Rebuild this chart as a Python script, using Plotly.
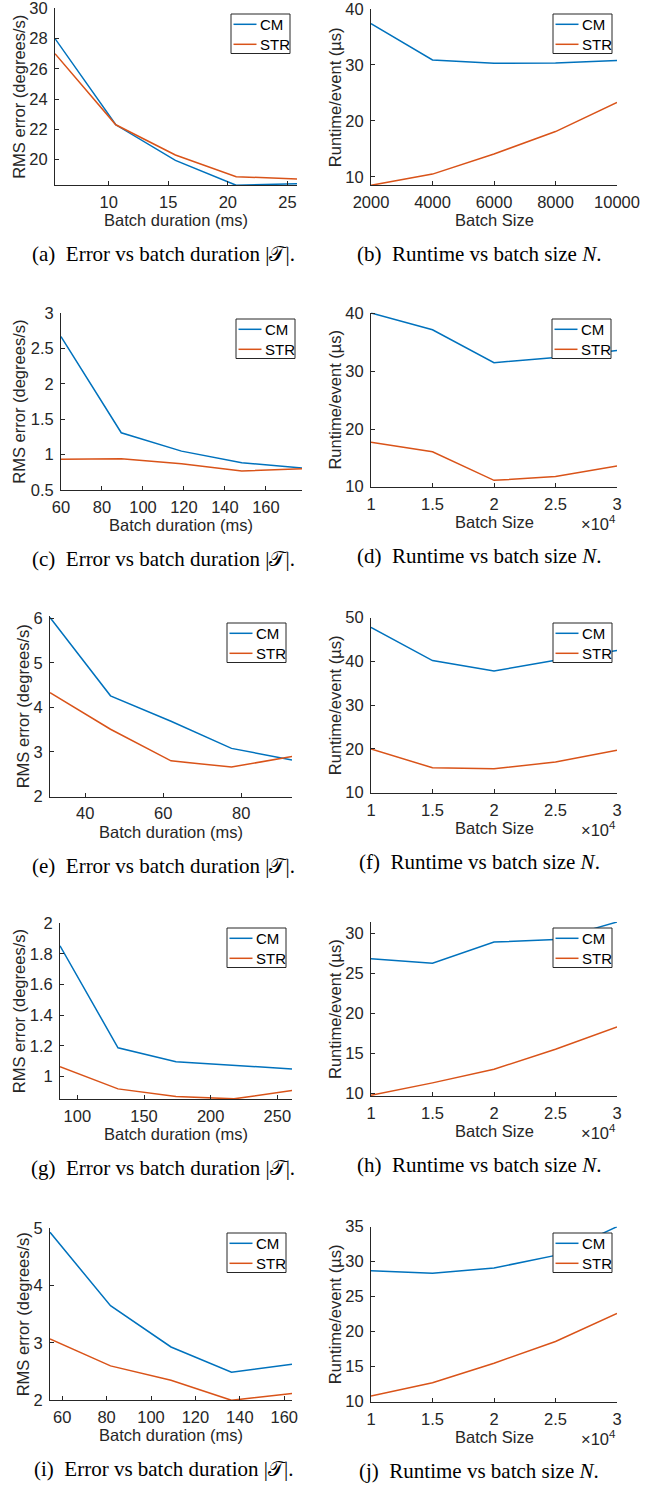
import plotly.graph_objects as go

W, H = 649, 1486

# ---------------- data ----------------
a_x = [5.5, 10.6, 15.6, 20.7, 25.8]
a_cm = [28.0, 22.3, 19.95, 18.3, 18.4]
a_str = [27.0, 22.3, 20.3, 18.87, 18.72]

b_x = [2000, 4000, 6000, 8000, 10000]
b_cm = [37.4, 30.9, 30.3, 30.35, 30.8]
b_str = [8.5, 10.5, 14.1, 18.1, 23.3]
b_ticktext = ["2000", "4000", "6000", "8000", "10000"]

c_x = [60, 89.4, 118.8, 148.2, 177.6]
c_cm = [2.67, 1.31, 1.05, 0.885, 0.81]
c_str = [0.935, 0.943, 0.87, 0.77, 0.80]

n_x = [10000, 15000, 20000, 25000, 30000]

d_cm = [40.1, 37.2, 31.5, 32.4, 33.6]
d_str = [17.7, 16.05, 11.1, 11.75, 13.6]

e_x = [31, 46.5, 62, 77.5, 93]
e_cm = [6.02, 4.26, 3.69, 3.08, 2.82]
e_str = [4.33, 3.51, 2.8, 2.66, 2.9]

f_cm = [47.8, 40.2, 37.8, 40.3, 42.5]
f_str = [20.0, 15.7, 15.5, 17.0, 19.7]

g_x = [87, 130.5, 174, 217.5, 261]
g_cm = [1.853, 1.188, 1.097, 1.075, 1.05]
g_str = [1.065, 0.92, 0.87, 0.855, 0.91]

h_cm = [26.8, 26.25, 28.9, 29.2, 31.4]
h_str = [9.75, 11.3, 13.0, 15.5, 18.3]

i_x = [54.5, 81.75, 109, 136.25, 163.5]
i_cm = [4.93, 3.65, 2.93, 2.49, 2.63]
i_str = [3.07, 2.6, 2.35, 2.0, 2.12]

j_cm = [28.7, 28.35, 29.1, 30.9, 35.0]
j_str = [10.8, 12.7, 15.5, 18.6, 22.6]

n_ticks = [10000, 15000, 20000, 25000, 30000]
n_ticktext = ["1", "1.5", "2", "2.5", "3"]

series_names = ["CM", "STR"]
colors = ["#0072BD", "#D95319"]

left_ylabel = "RMS error (degrees/s)"
right_ylabel = "Runtime/event (\u00b5s)"
left_xlabel = "Batch duration (ms)"
right_xlabel = "Batch Size"
left_caption = "Error vs batch duration |\U0001D4AF|."
right_caption = "Runtime vs batch size <i>N</i>."
letters = ["a", "b", "c", "d", "e", "f", "g", "h", "i", "j"]

panels = [
    dict(x=a_x, cm=a_cm, st=a_str, xr=[5.5, 25.8], yr=[18.3, 30], xt=[10, 15, 20, 25], yt=[20, 22, 24, 26, 28, 30],
         box=(55, 297, 8.3, 185.3), leg=(290, 14), side="L", ylx=19),
    dict(x=b_x, cm=b_cm, st=b_str, xr=[2000, 10000], yr=[8.5, 40], xt=b_x, xtt=b_ticktext, yt=[10, 20, 30, 40],
         box=(371, 617, 9, 185.3), leg=(612, 14), side="R", exp=False, ylx=335),
    dict(x=c_x, cm=c_cm, st=c_str, xr=[60, 177.6], yr=[0.5, 3], xt=[60, 80, 100, 120, 140, 160], yt=[0.5, 1, 1.5, 2, 2.5, 3],
         box=(61, 302, 313.3, 490), leg=(295, 319), side="L", ylx=19),
    dict(x=n_x, cm=d_cm, st=d_str, xr=[10000, 30000], yr=[10, 40.2], xt=n_ticks, xtt=n_ticktext, yt=[10, 20, 30, 40],
         box=(371, 617, 312.5, 486.7), leg=(611, 319), side="R", exp=True, ylx=335),
    dict(x=e_x, cm=e_cm, st=e_str, xr=[31, 93], yr=[2, 6.05], xt=[40, 60, 80], yt=[2, 3, 4, 5, 6],
         box=(50, 292, 616.1, 796.5), leg=(286, 623), side="L", ylx=23),
    dict(x=n_x, cm=f_cm, st=f_str, xr=[10000, 30000], yr=[10, 50], xt=n_ticks, xtt=n_ticktext, yt=[10, 20, 30, 40, 50],
         box=(371, 617, 617.7, 792.7), leg=(612, 623), side="R", exp=True, ylx=335),
    dict(x=g_x, cm=g_cm, st=g_str, xr=[87, 261], yr=[0.854, 2], xt=[100, 150, 200, 250], yt=[1, 1.2, 1.4, 1.6, 1.8, 2],
         box=(60, 292, 923.3, 1099), leg=(286, 928), side="L", ylx=19),
    dict(x=n_x, cm=h_cm, st=h_str, xr=[10000, 30000], yr=[9.66, 31.4], xt=n_ticks, xtt=n_ticktext, yt=[10, 15, 20, 25, 30],
         box=(371, 617, 922, 1096), leg=(612, 928), side="R", exp=True, ylx=335),
    dict(x=i_x, cm=i_cm, st=i_str, xr=[54.5, 163.5], yr=[2, 5], xt=[60, 80, 100, 120, 140, 160], yt=[2, 3, 4, 5],
         box=(50, 292, 1228.3, 1400.3), leg=(286, 1233), side="L", ylx=23),
    dict(x=n_x, cm=j_cm, st=j_str, xr=[10000, 30000], yr=[10, 35], xt=n_ticks, xtt=n_ticktext, yt=[10, 15, 20, 25, 30, 35],
         box=(371, 617, 1226.7, 1401.7), leg=(612, 1233), side="R", exp=True, ylx=335),
]

TXT = "#262626"
SANS = "Liberation Sans, Arial, Helvetica, sans-serif"
SERIF = "Liberation Serif, Times New Roman, serif"
FS = 16.5

fig = go.Figure()
layout = dict(
    width=W, height=H, margin=dict(l=0, r=0, t=0, b=0, pad=0, autoexpand=False),
    paper_bgcolor="white", plot_bgcolor="rgba(0,0,0,0)", showlegend=False,
    font=dict(family=SANS, size=FS, color=TXT),
)
annotations = []
shapes = []


def px_x(v):
    return v / W


def px_y(v):
    return 1 - v / H


for k, p in enumerate(panels):
    idx = k + 1
    sfx = "" if idx == 1 else str(idx)
    x0, x1, y0, y1 = p["box"]
    for name, ys, col in zip(series_names, [p["cm"], p["st"]], colors):
        fig.add_trace(go.Scatter(
            x=p["x"], y=ys, mode="lines", name=name,
            line=dict(color=col, width=1.5),
            xaxis="x" + sfx, yaxis="y" + sfx, showlegend=False,
        ))
    axcommon = dict(showline=True, linecolor=TXT, linewidth=1, ticks="inside", ticklen=4,
                    tickcolor=TXT, tickwidth=1, showgrid=False, zeroline=False, automargin=False,
                    ticklabeloverflow="allow",
                    tickfont=dict(family=SANS, size=FS, color=TXT))
    xa = dict(axcommon, domain=[px_x(x0), px_x(x1)], range=p["xr"], anchor="y" + sfx,
              tickvals=p["xt"], ticklabelstandoff=2)
    if "xtt" in p:
        xa["ticktext"] = p["xtt"]
    ya = dict(axcommon, domain=[px_y(y1), px_y(y0)], range=p["yr"], anchor="x" + sfx,
              tickvals=p["yt"], ticklabelstandoff=3)
    layout["xaxis" + sfx] = xa
    layout["yaxis" + sfx] = ya

    # legend box (drawn as a framed key)
    rx, ty = p["leg"]
    shapes.append(dict(type="rect", xref="paper", yref="paper", layer="above",
                       x0=px_x(rx - 59), x1=px_x(rx), y0=px_y(ty + 39.5), y1=px_y(ty),
                       fillcolor="white", line=dict(color=TXT, width=1)))
    for r, (name, col) in enumerate(zip(series_names, colors)):
        yy = ty + 10.3 + 20 * r
        shapes.append(dict(type="line", xref="paper", yref="paper", layer="above",
                           x0=px_x(rx - 56.5), x1=px_x(rx - 33.5), y0=px_y(yy), y1=px_y(yy),
                           line=dict(color=col, width=1.5)))
        annotations.append(dict(text=name, x=px_x(rx - 32.5), y=px_y(yy), xref="paper", yref="paper",
                                xanchor="left", yanchor="middle", showarrow=False,
                                font=dict(family=SANS, size=15, color="black")))

    # axis titles
    cx = (x0 + x1) / 2
    annotations.append(dict(
        text=left_xlabel if p["side"] == "L" else right_xlabel,
        x=px_x(cx), y=px_y(y1 + 35), xref="paper", yref="paper",
        xanchor="center", yanchor="middle", showarrow=False,
        font=dict(family=SANS, size=FS, color=TXT),
    ))
    annotations.append(dict(
        text=left_ylabel if p["side"] == "L" else right_ylabel,
        x=px_x(p["ylx"]), y=px_y((y0 + y1) / 2), xref="paper", yref="paper",
        xanchor="center", yanchor="middle", showarrow=False, textangle=-90,
        font=dict(family=SANS, size=FS, color=TXT),
    ))
    if p.get("exp"):
        annotations.append(dict(
            text="\u00d710<sup>4</sup>", x=px_x(618), y=px_y(y1 + 36), xref="paper", yref="paper",
            xanchor="right", yanchor="middle", showarrow=False,
            font=dict(family=SANS, size=FS, color=TXT),
        ))
    # caption
    capx = 163 if p["side"] == "L" else 479
    cap = left_caption if p["side"] == "L" else right_caption
    annotations.append(dict(
        text="(%s)\u00a0 %s" % (letters[k], cap),
        x=px_x(capx), y=px_y(y1 + 69), xref="paper", yref="paper",
        xanchor="center", yanchor="middle", showarrow=False,
        font=dict(family=SERIF, size=21, color="black"),
    ))

layout["annotations"] = annotations
layout["shapes"] = shapes
fig.update_layout(**layout)
fig.write_html("out.html")
